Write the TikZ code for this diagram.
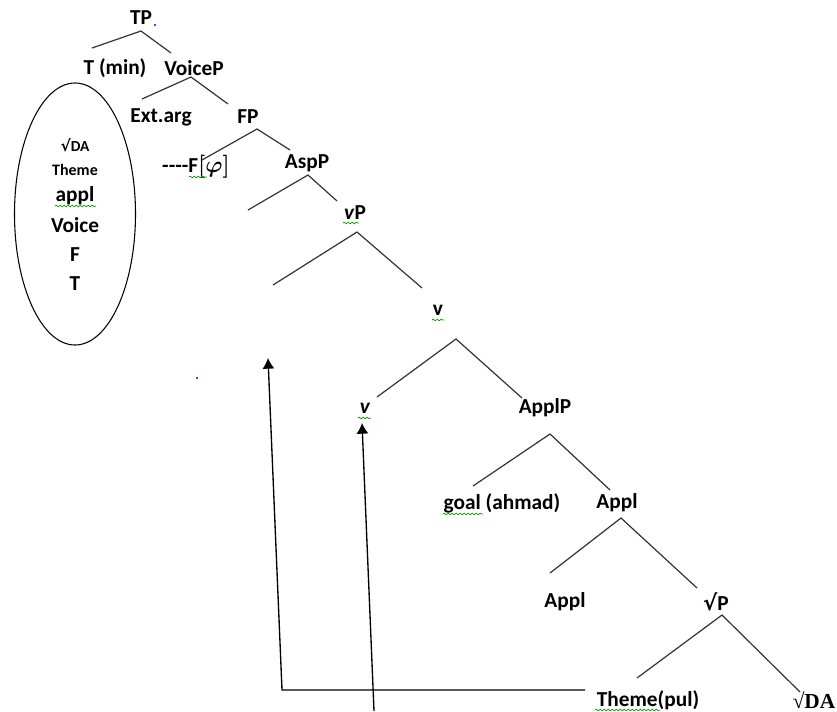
\documentclass[tikz,border=0pt]{standalone}
\usepackage{fontspec}
\setmainfont{Carlito}
\newfontfamily\rootfont{DejaVu Sans}
\newfontfamily\timesfont{Liberation Serif}
\usetikzlibrary{arrows.meta}
\usetikzlibrary{shapes.geometric}
\usetikzlibrary{decorations.pathmorphing}

\begin{document}
\begin{tikzpicture}[x=0.75pt,y=-0.75pt]

\tikzstyle{every node}=[font=\fontsize{16}{19}\selectfont\bfseries, inner sep=0pt]
\tikzstyle{small}=[font=\fontsize{12}{14}\selectfont\bfseries]
\tikzstyle{branch}=[line width=0.9pt, draw=black!80]
\tikzstyle{spell}=[draw=green!60!black, line width=0.5pt, decorate,
	decoration={snake, segment length=3pt, amplitude=0.6pt}]
\tikzstyle{move}=[line width=1pt, -{Latex[length=8pt,width=9pt]}]

\useasboundingbox (0,0) rectangle (837,711);

% the tree
\node (TP) at (141,18) {TP};
\node (Tmin) at (115,68) {T (min)};
\node (VoiceP) at (194,68) {VoiceP};
\node (Extarg) at (161,117) {Ext.arg};
\node (FP) at (248,117) {FP};
\node (Fphi) at (196,167) {-{}-{}-{}-F{\boldmath$[\varphi]$}};
\node (AspP) at (307,163) {AspP};
\node (vP) at (355,213) {\textit{v}P};
\node (vbar) at (438,310) {v};
\node (vhead) at (365,408) {\textit{v}};
\node (ApplP) at (545,408) {ApplP};
\node (goal) at (502,503) {goal (ahmad)};
\node (Applbar) at (617,503) {Appl};
\node (Applhead) at (565,602) {Appl};
\node (rootP) at (716,602) {{\rootfont √}P};
\node (theme) at (648,700) {Theme(pul)};
\node (rootDA) at (814,700) {\timesfont √DA};

% branch points and ends
\coordinate (TP-a) at (141,31);  \coordinate (TP-l) at (92,48);   \coordinate (TP-r) at (171,53);
\coordinate (VP-a) at (191,77);  \coordinate (VP-l) at (142,99);  \coordinate (VP-r) at (228,104);
\coordinate (FP-a) at (257,129); \coordinate (FP-l) at (202,160); \coordinate (FP-r) at (290,150);
\coordinate (As-a) at (308,175); \coordinate (As-l) at (248,210); \coordinate (As-r) at (337,201);
\coordinate (vP-a) at (357,232); \coordinate (vP-l) at (273,285); \coordinate (vP-r) at (422,288);
\coordinate (vb-a) at (456,339); \coordinate (vb-l) at (377,397); \coordinate (vb-r) at (522,398);
\coordinate (AP-a) at (550,434); \coordinate (AP-l) at (473,486); \coordinate (AP-r) at (610,490);
\coordinate (Ab-a) at (621,518); \coordinate (Ab-l) at (550,573); \coordinate (Ab-r) at (697,588);
\coordinate (rP-a) at (722,615); \coordinate (rP-l) at (637,678); \coordinate (rP-r) at (800,692);

\foreach \b in {TP,VP,FP,As,vP,vb,AP,Ab,rP}
	\draw[branch] (\b-l) -- (\b-a) -- (\b-r);

% movement
\coordinate (corner) at (282,690);
\coordinate (turn) at (585,690);
\coordinate (trace) at (268,358);
\coordinate (tail) at (374,711);
\coordinate (vhead-tip) at (362,423);
\draw[move] (turn) -- (corner) -- (trace);
\draw[move] (tail) -- (vhead-tip);

% the stack of heads
\node (stack) [draw, ellipse, line width=0.8pt, minimum width=90.75pt,
	minimum height=196.5pt] at (75,214) {};
\node (s-root) [small, font=\fontsize{11.5}{13}\selectfont\bfseries] at (75,145)
	{{\rootfont √}DA};
\node (s-theme) [small] at (75,170) {Theme};
\node (s-appl) at (75,196) {appl};
\node (s-voice) at (75,225) {Voice};
\node (s-F) at (75,255) {F};
\node (s-T) at (75,284) {T};

% spelling marks
\draw[spell] (343,223) -- (359,223);
\draw[spell] (432,320) -- (444,320);
\draw[spell] (358,418) -- (371,418);
\draw[spell] (189,177) -- (207,177);
\draw[spell] (55,206) -- (96,206);
\draw[spell] (443,514) -- (483,514);
\draw[spell] (595,710) -- (660,710);

% stray dots
\fill[blue] (155,25) circle (0.8pt);
\fill[blue] (197,378) circle (0.8pt);

\end{tikzpicture}
\end{document}
